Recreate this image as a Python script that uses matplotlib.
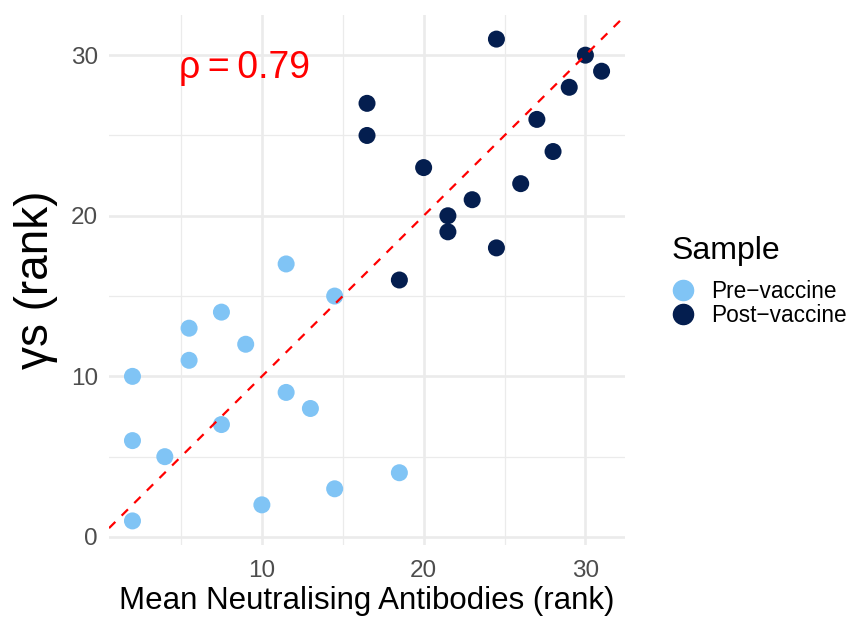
import matplotlib
matplotlib.use("Agg")
import matplotlib.pyplot as plt
from matplotlib.lines import Line2D

plt.rcParams['font.family'] = ['Liberation Sans', 'DejaVu Sans']

# ranks
pre_x = [2, 2, 2, 4, 5.5, 5.5, 7.5, 7.5, 9, 10, 11.5, 11.5, 13, 14.5, 14.5, 18.5]
pre_y = [10, 6, 1, 5, 13, 11, 14, 7, 12, 2, 17, 9, 8, 15, 3, 4]
post_x = [18.5, 16.5, 16.5, 20, 21.5, 21.5, 23, 24.5, 24.5, 26, 27, 28, 29, 30, 31]
post_y = [16, 27, 25, 23, 20, 19, 21, 18, 31, 22, 26, 24, 28, 30, 29]
rho = 0.79
groups = ['Pre\u2212vaccine', 'Post\u2212vaccine']
colors = ['#80C4F5', '#041E4F']

fig = plt.figure(figsize=(8.49, 6.23), dpi=100)
ax = fig.add_axes([0.1284, 0.1252, 0.6078, 0.8507])

grid_col = '#EBEBEB'
for v in [5, 15, 25]:
    ax.axvline(v, color=grid_col, lw=0.9, zorder=0)
    ax.axhline(v, color=grid_col, lw=0.9, zorder=0)
for v in [10, 20, 30]:
    ax.axvline(v, color=grid_col, lw=1.9, zorder=0)
for v in [0, 10, 20, 30]:
    ax.axhline(v, color=grid_col, lw=1.9, zorder=0)

ax.scatter(pre_x, pre_y, s=150, color=colors[0], edgecolors='none', zorder=3)
ax.scatter(post_x, post_y, s=150, color=colors[1], edgecolors='none', zorder=3)
ax.axline((0, 0), slope=1, color='red', lw=1.6, ls=(0, (4, 4)), zorder=4)

ax.text(8.9, 29.2, f'\u03c1\u2009=\u2009{rho}', color='red', fontsize=27, ha='center', va='center')

ax.set_xlim(0.55, 32.45)
ax.set_ylim(-0.5, 32.5)
ax.set_xticks([10, 20, 30])
ax.set_yticks([0, 10, 20, 30])
ax.tick_params(length=0, labelsize=17.5, labelcolor='#4D4D4D')
ax.tick_params(axis='x', pad=11)
ax.tick_params(axis='y', pad=8)
for s in ax.spines.values():
    s.set_visible(False)
ax.set_xlabel('Mean Neutralising Antibodies (rank)', fontsize=22.5, labelpad=3)
ax.set_ylabel('\u03b3s (rank)', fontsize=33, labelpad=9)

handles = [Line2D([], [], marker='o', ls='none', markersize=14.5, color=c) for c in colors]
leg = fig.legend(handles, groups, title='Sample', loc='center left',
                 bbox_to_anchor=(0.767, 0.548), frameon=False, fontsize=16.3,
                 title_fontsize=23, handletextpad=0.75, labelspacing=0.05,
                 handlelength=1.0)
leg._legend_box.align = 'left'
leg._legend_box.sep = 10

fig.savefig('out.png', dpi=100)
